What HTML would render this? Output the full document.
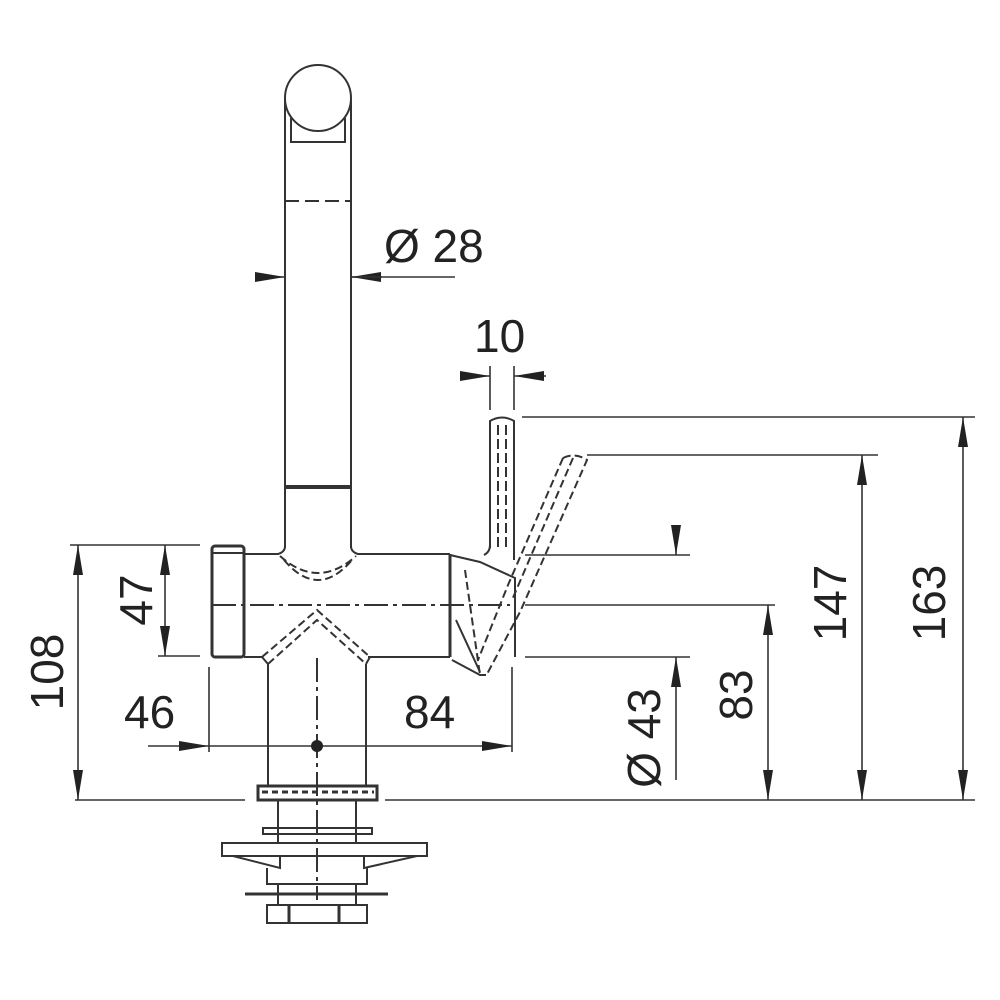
<!DOCTYPE html>
<html><head><style>
html,body{margin:0;padding:0;background:#fff;}
svg{display:block;}
text{font-family:"Liberation Sans",sans-serif;font-size:46px;fill:#222;}
</style></head><body>
<svg width="1000" height="1000" viewBox="0 0 1000 1000" xmlns="http://www.w3.org/2000/svg">
<defs>
<marker id="a" viewBox="0 0 30 10" refX="30" refY="5" markerWidth="30" markerHeight="10" markerUnits="userSpaceOnUse" orient="auto-start-reverse"><path d="M0,0 L30,5 L0,10 z" fill="#222"/></marker>
</defs>
<g stroke="#333" stroke-width="2" fill="none">
<circle cx="318" cy="98" r="33"/>
<path d="M285,100 L285,548 M351,100 L351,548"/>
<path d="M291,118 L291,142 L345,142 L345,118"/>
<path d="M285,201 L351,201" stroke-dasharray="14,6"/>
<path d="M285,487 L351,487" stroke-width="4"/>
<rect x="212" y="546" width="32" height="111" rx="3" stroke-width="3"/>
<path d="M212,553 L244,553"/>
<path d="M244,554 L278,554 Q285,552 285,546 M351,546 Q351,552 358,554 L450,554" />
<path d="M244,657 L262,657 M368,657 L450,657"/>
<path d="M280,556 Q318,590 356,556 M284,560 Q318,600 352,560" stroke-dasharray="8,4"/>
<path d="M262,657 L317,610 L370,657 M268,664 L317,620 L366,664" stroke-dasharray="8,4"/>
<path d="M262,657 L268,664 M370,657 L366,664"/>
<path d="M450,554 L450,657" stroke-width="3"/>
<path d="M450,555 L480,562 L515,578 L515,657"/>
<path d="M452,660 L480,675 L486,675"/>
<path d="M465,570 L475,640 L480,675" stroke-dasharray="8,4"/>
<path d="M456,620 L480,672"/>
<path d="M490,548 L490,421 Q502,414 514,421 L514,560"/>
<path d="M484,555 Q490,552 490,545"/>
<path d="M498,425 L498,548 M506,425 L506,548" stroke-dasharray="10,4"/>
<path d="M563,458 Q575,452 587,460 L520,612 L486,676 M563,458 L508,585 L478,660" stroke-dasharray="8,4"/>
<path d="M573,458 L512,600" stroke-dasharray="8,4"/>
<path d="M268,664 L268,785 M366,664 L366,785"/>
<rect x="258" y="786" width="119" height="14" stroke-width="3"/>
<path d="M262,792 L374,792" stroke-dasharray="6,4" stroke-width="3"/>
<path d="M278,800 L278,843 M356,800 L356,843"/>
<rect x="263" y="828" width="109" height="6"/>
<rect x="222" y="843" width="205" height="13"/>
<path d="M233,856 L280,868 L280,856 M417,856 L364,868 L364,856"/>
<path d="M267,868 L267,884 L367,884 L367,868"/>
<path d="M245,894 L388,894" stroke-width="3"/>
<path d="M278,884 L278,905 M356,884 L356,905"/>
<rect x="267" y="905" width="100" height="18"/>
<path d="M289,905 L289,923 M339,905 L339,923" stroke-width="3"/>
<path d="M212,605 L510,605" stroke-dasharray="24,5,4,5"/>
<path d="M317,658 L317,900" stroke-dasharray="24,5,4,5"/>
</g>
<g stroke="#333" stroke-width="1.6" fill="none">
<path d="M255,277 L285,277" marker-end="url(#a)"/>
<path d="M382,277 L351,277" marker-end="url(#a)"/>
<path d="M351,277 L455,277"/>
<path d="M460,376 L490,376" marker-end="url(#a)"/>
<path d="M546,376 L514,376" marker-end="url(#a)"/>
<path d="M490,366 L490,410 M514,366 L514,410"/>
<path d="M522,417 L975,417 M587,455 L878,455"/>
<path d="M525,555 L690,555 M525,605 L775,605 M525,657 L690,657"/>
<path d="M75,800 L245,800 M385,800 L975,800"/>
<path d="M963,417 L963,800" marker-start="url(#a)" marker-end="url(#a)"/>
<path d="M862,455 L862,800" marker-start="url(#a)" marker-end="url(#a)"/>
<path d="M768,605 L768,800" marker-start="url(#a)" marker-end="url(#a)"/>
<path d="M676,528 L676,555" marker-end="url(#a)"/>
<path d="M676,780 L676,657" marker-end="url(#a)"/>
<path d="M70,545 L200,545 M158,656 L200,656"/>
<path d="M78,545 L78,800" marker-start="url(#a)" marker-end="url(#a)"/>
<path d="M165,545 L165,656" marker-start="url(#a)" marker-end="url(#a)"/>
<path d="M209,667 L209,752 M512,667 L512,752"/>
<path d="M148,746 L209,746" marker-end="url(#a)"/>
<path d="M209,746 L512,746" marker-end="url(#a)"/>
</g>
<circle cx="317" cy="746" r="6" fill="#222"/>
<text x="384" y="262">Ø 28</text>
<text x="474" y="352">10</text>
<text x="124" y="728">46</text>
<text x="404" y="728">84</text>
<text transform="translate(945,603) rotate(-90)" text-anchor="middle">163</text>
<text transform="translate(846,603) rotate(-90)" text-anchor="middle">147</text>
<text transform="translate(752,695) rotate(-90)" text-anchor="middle">83</text>
<text transform="translate(660,738) rotate(-90)" text-anchor="middle">Ø 43</text>
<text transform="translate(152,600) rotate(-90)" text-anchor="middle">47</text>
<text transform="translate(63,672) rotate(-90)" text-anchor="middle">108</text>
</svg>
</body></html>
